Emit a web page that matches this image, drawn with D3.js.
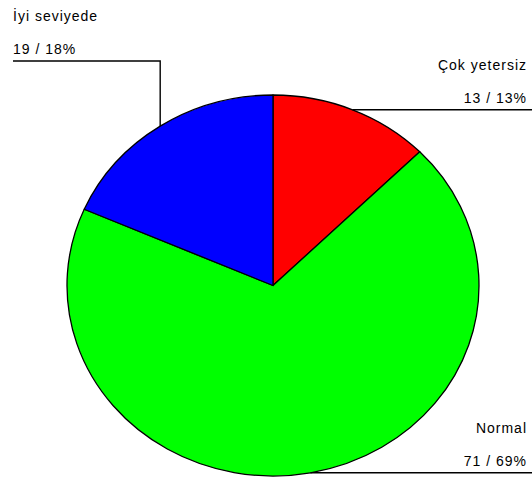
<!DOCTYPE html>
<html>
<head>
<meta charset="utf-8">
<script src="https://cdn.jsdelivr.net/npm/d3@7"></script>
<style>
  html, body { margin: 0; padding: 0; background: #fff; }
  svg { display: block; }
  text { font-family: "Liberation Sans", Arial, sans-serif; font-size: 14px; letter-spacing: 1px; fill: #000; }
</style>
</head>
<body>
<svg id="chart" width="532" height="477"></svg>
<script>
// Slices in drawing order, clockwise from 12 o'clock
const categories = ["Çok yetersiz", "Normal", "İyi seviyede"];
const counts = [13, 71, 19];
const percents = [13, 69, 18];
const colors = ["#ff0000", "#00ff00", "#0000ff"];

const W = 532, H = 477;
const cx = 273, cy = 285.5;     // pie centre
const rx = 206, ry = 190.5;     // the pie is drawn slightly wider than tall

const svg = d3.select("#chart");

const pie = d3.pie().sort(null).value(d => d.value);
const arcs = pie(categories.map((c, i) => ({ name: c, value: counts[i], pct: percents[i], color: colors[i] })));

const arc = d3.arc().innerRadius(0).outerRadius(ry);

const g = svg.append("g")
  .attr("transform", `translate(${cx},${cy}) scale(${rx / ry},1)`);

g.selectAll("path.slice")
  .data(arcs)
  .join("path")
  .attr("class", "slice")
  .attr("d", arc)
  .attr("fill", d => d.data.color)
  .attr("stroke", "#000")
  .attr("stroke-width", 1.3)
  .attr("stroke-linejoin", "round")
  .attr("vector-effect", "non-scaling-stroke");

// Point on the rim at a slice's middle angle
function rimPoint(d) {
  const a = (d.startAngle + d.endAngle) / 2;
  return [cx + rx * Math.sin(a), cy - ry * Math.cos(a)];
}

const leaders = svg.append("g")
  .attr("fill", "none")
  .attr("stroke", "#000")
  .attr("stroke-width", 1.4);

const labels = svg.append("g");

arcs.forEach(d => {
  const [px, py] = rimPoint(d);
  const mid = (d.startAngle + d.endAngle) / 2;
  let lineY, textX, anchor, pts;
  if (mid > Math.PI) {
    // left-hand slice: up from the rim, then out to the left margin
    lineY = 61;
    textX = 13;
    anchor = "start";
    pts = [[px, py], [px, lineY], [13, lineY]];
  } else {
    // right-hand slices: straight out to the right edge
    lineY = py;
    textX = 527;
    anchor = "end";
    pts = [[px, py], [W, py]];
  }
  leaders.append("path").attr("d", d3.line()(pts));

  labels.append("text")
    .attr("x", textX).attr("y", lineY - 40)
    .attr("text-anchor", anchor)
    .text(d.data.name);
  labels.append("text")
    .attr("x", textX).attr("y", lineY - 7)
    .attr("text-anchor", anchor)
    .text(`${d.data.value} / ${d.data.pct}%`);
});
</script>
</body>
</html>
